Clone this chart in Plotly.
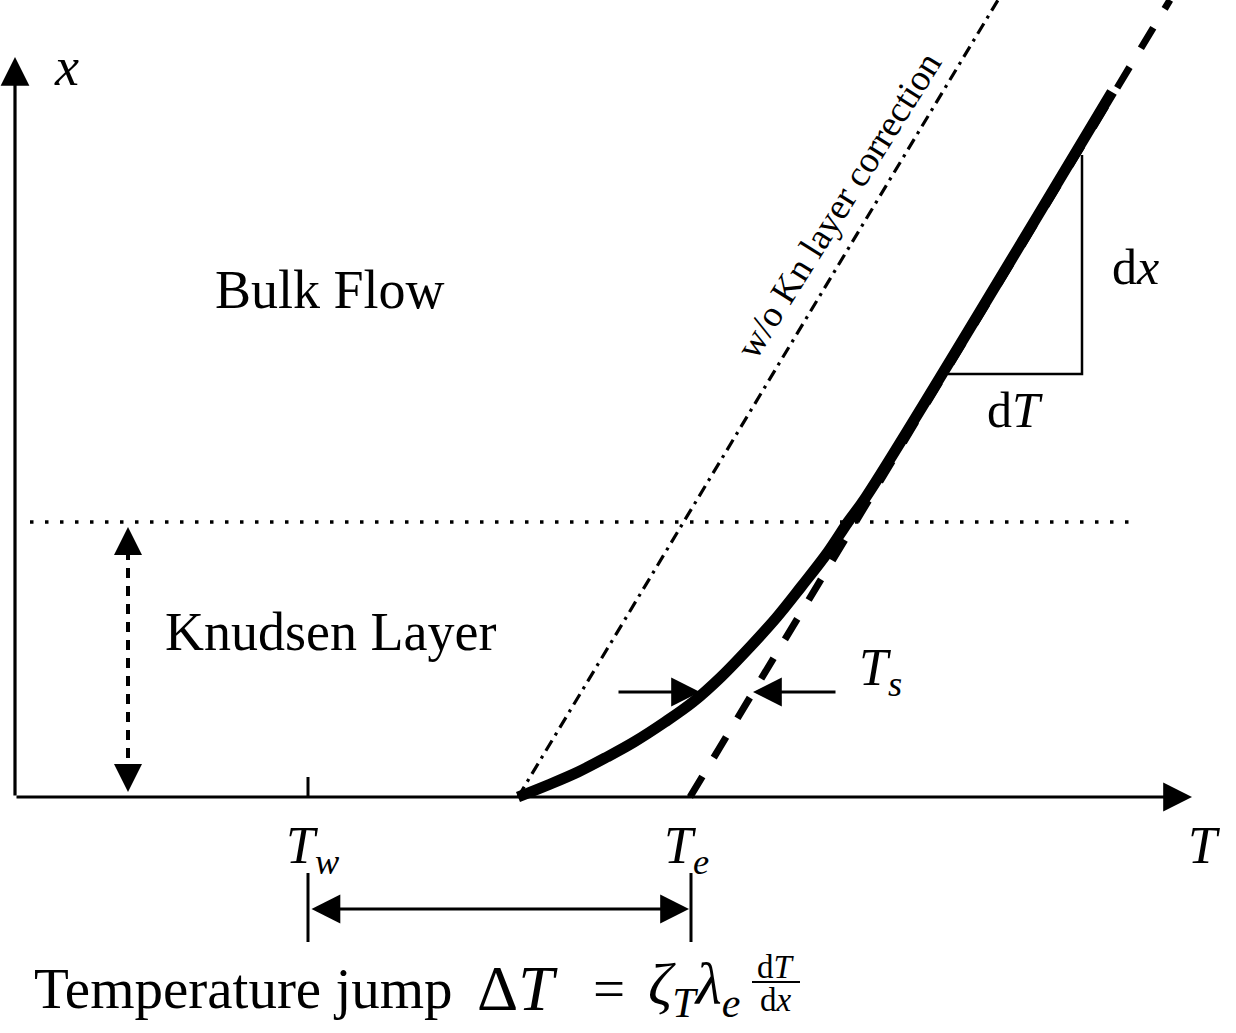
import plotly.graph_objects as go

# ---- frame (T horizontal, x = height above the wall) ----
T_range = [0, 1236]
x_range = [-236, 797]

# axes
origin_T = 15
T_axis_tip = 1192
x_axis_tip = 740

# characteristic temperatures (frame units)
T_w = 308
T_e = 690
kn_top = 275          # Knudsen layer thickness
tick_len = 20

# Knudsen-layer corrected temperature profile
profile_x = [0, 12, 25, 40, 55, 75, 95, 120, 150, 180, 210, 245, 275, 300, 705]
profile_T = [518, 548, 578, 607, 634, 665, 693, 721, 750, 777, 801, 828, 848, 866, 1112]

# bulk profile extrapolated to the wall (dashed)
bulk_x = [0, 797]
bulk_T = [690, 1170]

# profile without Knudsen-layer correction (dash-dot)
uncorr_x = [0, 797]
uncorr_T = [518, 998]

# Knudsen layer edge (dotted)
edge_T = [30, 1135]
edge_x = [kn_top, kn_top]

# Knudsen layer thickness marker
kn_arrow_T = 128
kn_arrow_x = [5, 270]

# slope triangle
tri_T = [948, 1082, 1082]
tri_x = [423, 423, 642]

# slip marker T_s
ts_level = 105
ts_left = [617, 700]
ts_right = [837, 753]

# temperature jump marker
jump_level = -112
jump_bar_x = [-76, -145]
jump_T = [308, 691]

FONT = "Liberation Serif"

fig = go.Figure()


def line(T, x, width, dash="solid", shape="linear"):
    fig.add_trace(go.Scatter(x=T, y=x, mode="lines", hoverinfo="skip", showlegend=False,
                             line=dict(color="black", width=width, dash=dash, shape=shape)))


# uncorrected (dash-dot)
line(uncorr_T, uncorr_x, 3.2, dash="12px,6px,3px,6px")
# Knudsen edge (dotted)
line(edge_T, edge_x, 3.5, dash="3.5px,11.5px")
# bulk extrapolation (thick dashed)
line(bulk_T, bulk_x, 7, dash="24px,22px")
# corrected profile
line(profile_T, profile_x, 11, shape="spline")
# slope triangle
line(tri_T, tri_x, 2.5)
# T_w tick
line([T_w, T_w], [0, tick_len], 3)
# jump bars
line([jump_T[0], jump_T[0]], jump_bar_x, 3)
line([jump_T[1], jump_T[1]], jump_bar_x, 3)
# Knudsen thickness dashed shaft
line([kn_arrow_T, kn_arrow_T], [kn_arrow_x[0] + 16, kn_arrow_x[1] - 16], 4, dash="10px,8px")
# fraction bar
line([752, 800], [-185, -185], 2)

anns = []


def arrow(tail, tip, width=3.2, size=1.8, both=False):
    anns.append(dict(x=tip[0], y=tip[1], ax=tail[0], ay=tail[1], xref="x", yref="y",
                     axref="x", ayref="y", text="", showarrow=True,
                     arrowhead=2, arrowsize=size, arrowwidth=width, arrowcolor="black",
                     startarrowhead=2, startarrowsize=size,
                     arrowside="end+start" if both else "end",
                     standoff=0, startstandoff=0))


# axes
arrow((origin_T, 0), (T_axis_tip, 0))
arrow((origin_T, 0), (origin_T, x_axis_tip))
# Knudsen thickness arrow heads
arrow((kn_arrow_T, kn_arrow_x[1] - 18), (kn_arrow_T, kn_arrow_x[1]), width=3.5, size=1.6)
arrow((kn_arrow_T, kn_arrow_x[0] + 18), (kn_arrow_T, kn_arrow_x[0]), width=3.5, size=1.6)
# T_s arrows
arrow((ts_left[0], ts_level), (ts_left[1], ts_level))
arrow((ts_right[0], ts_level), (ts_right[1], ts_level))
# jump double arrow
arrow((jump_T[0] + 2, jump_level), (jump_T[1] - 2, jump_level), both=True)


def label(text, T, x, size, angle=0, xanchor="center"):
    anns.append(dict(x=T, y=x, xref="x", yref="y", text=text, showarrow=False,
                     textangle=angle, xanchor=xanchor, yanchor="middle",
                     font=dict(family=FONT, size=size, color="black")))


label("<i>x</i>", 66, 730, 54)
label("<i>T</i>", 1204, -48, 52)
label("<i>T</i><sub><i>w</i></sub>", 312, -52, 52)
label("<i>T</i><sub><i>e</i></sub>", 686, -52, 52)
label("<i>T</i><sub><i>s</i></sub>", 880, 126, 52)
label("Bulk Flow", 330, 507, 54)
label("Knudsen Layer", 330, 165, 54)
label("d<i>x</i>", 1135, 530, 50)
label("d<i>T</i>", 1015, 387, 50)
label("w/o Kn layer correction", 838, 592, 37, angle=-58)
label("Temperature jump", 32, -191, 57, xanchor="left")
label("Δ<i>T</i>", 517, -191, 64)
label("=", 609, -191, 57)
label("<i>ζ</i><sub><i>T</i></sub><i>λ</i><sub><i>e</i></sub>", 694, -191, 60)
label("d<i>T</i>", 776, -170, 33)
label("d<i>x</i>", 776, -203, 33)

fig.update_layout(
    width=1236, height=1033, autosize=False,
    margin=dict(l=0, r=0, t=0, b=0),
    paper_bgcolor="white", plot_bgcolor="white",
    xaxis=dict(range=T_range, visible=False, fixedrange=True),
    yaxis=dict(range=x_range, visible=False, fixedrange=True),
    annotations=anns,
)

fig.write_html("out.html")
